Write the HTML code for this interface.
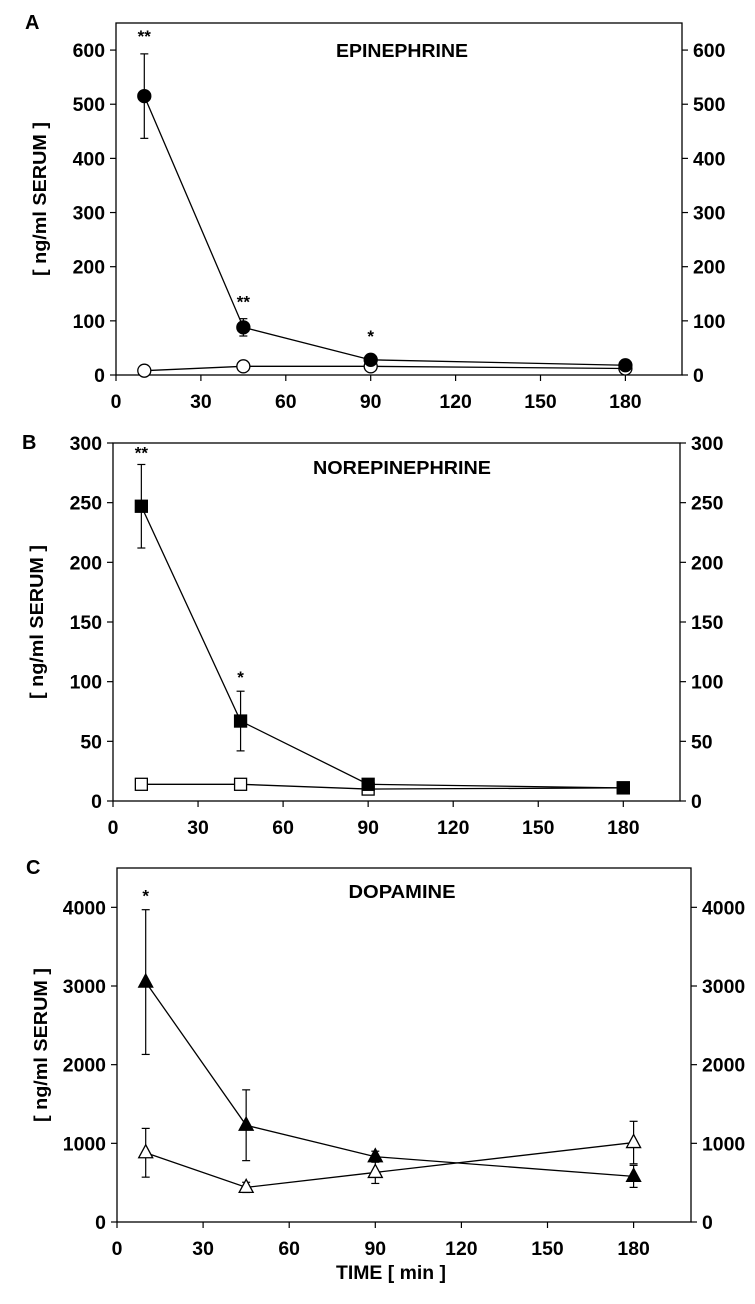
<!DOCTYPE html>
<html><head><meta charset="utf-8"><style>
html,body{margin:0;padding:0;background:#fff;width:755px;height:1304px;overflow:hidden}
svg{display:block}
text{font-family:"Liberation Sans",Arial,sans-serif;font-weight:bold;fill:#000}
</style></head><body>
<svg id="chart" width="755" height="1304" viewBox="0 0 755 1304" xmlns="http://www.w3.org/2000/svg"></svg>
<script>
const xTicks=[0,30,60,90,120,150,180];
const times=[10,45,90,180];
const epiTicks=[0,100,200,300,400,500,600];
const epiStim=[515,88,28,18];
const epiStimErr=[78,16,0,0];
const epiCtrl=[8,16,16,12];
const epiCtrlErr=[0,0,0,0];
const norTicks=[0,50,100,150,200,250,300];
const norStim=[247,67,14,11];
const norStimErr=[35,25,0,0];
const norCtrl=[14,14,10,11];
const norCtrlErr=[0,0,0,0];
const dopTicks=[0,1000,2000,3000,4000];
const dopStim=[3050,1230,830,580];
const dopStimErr=[920,450,70,140];
const dopCtrl=[880,440,630,1010];
const dopCtrlErr=[310,65,140,270];
const epiStars=['**','**','*',''];
const norStars=['**','*','',''];
const dopStars=['*','','',''];

const svg=document.getElementById('chart');
const NS='http://www.w3.org/2000/svg';
function mk(tag,attrs,parent,txt){const e=document.createElementNS(NS,tag);for(const k in attrs)e.setAttribute(k,attrs[k]);if(txt!==undefined)e.textContent=txt;(parent||svg).appendChild(e);return e;}
function num(v,x,y,anchor,g){
  const s=String(v);
  return mk('text',{x:x,y:y,'font-size':19,'text-anchor':anchor,textLength:s.length*10.8,lengthAdjust:'spacingAndGlyphs'},g,s);
}

function panel(p){
  const g=mk('g',{});
  
  
  const X=v=>p.L+(v/200)*(p.R-p.L);
  const Y=v=>p.B-(v/p.ymax)*(p.B-p.T);
  const box=mk('rect',{x:p.L,y:p.T,width:p.R-p.L,height:p.B-p.T,fill:'none',stroke:'#000','stroke-width':1.3},g);
  
  
  const lt=mk('text',{x:p.L-91,y:p.T+6,'font-size':20},g,p.letter);
  
  
  xTicks.forEach(v=>{
    mk('line',{x1:X(v),x2:X(v),y1:p.B,y2:p.B+6,stroke:'#000','stroke-width':1.2},g);
    const t=num(v,X(v),p.B+33,'middle',g);
    
    
  });
  p.ticks.forEach(v=>{
    mk('line',{x1:p.L-6,x2:p.L,y1:Y(v),y2:Y(v),stroke:'#000','stroke-width':1.2},g);
    mk('line',{x1:p.R,x2:p.R+6,y1:Y(v),y2:Y(v),stroke:'#000','stroke-width':1.2},g);
    const t=num(v,p.L-11,Y(v)+7,'end',g);
    
    
    const t2=num(v,p.R+11,Y(v)+7,'start',g);
    
    
  });
  const yl=mk('text',{x:0,y:0,'font-size':18,'text-anchor':'middle',textLength:154,lengthAdjust:'spacingAndGlyphs',transform:`translate(${p.L-70},${(p.T+p.B)/2}) rotate(-90)`},g,'[ ng/ml SERUM ]');
  
  
  const ti=mk('text',{x:p.tx,y:p.T+p.ty,'font-size':18,'text-anchor':'middle',textLength:p.tw,lengthAdjust:'spacingAndGlyphs'},g,p.title);
  
  
  function series(vals,errs,filled,name){
    const sg=mk('g',{},g);
    
    
    mk('polyline',{points:vals.map((v,i)=>X(times[i])+','+Y(v)).join(' '),fill:'none',stroke:'#000','stroke-width':1.3},sg);
    vals.forEach((v,i)=>{
      const e=errs[i];
      if(e>0){
        const cx=X(times[i]);
        mk('line',{x1:cx,x2:cx,y1:Y(v+e),y2:Y(v-e),stroke:'#000','stroke-width':1.2},sg);
        mk('line',{x1:cx-4,x2:cx+4,y1:Y(v+e),y2:Y(v+e),stroke:'#000','stroke-width':1.2},sg);
        mk('line',{x1:cx-4,x2:cx+4,y1:Y(v-e),y2:Y(v-e),stroke:'#000','stroke-width':1.2},sg);
      }
    });
    vals.forEach((v,i)=>{
      const cx=X(times[i]),cy=Y(v);let m;
      const f=filled?'#000':'#fff';
      if(p.shape==='circle')m=mk('circle',{cx:cx,cy:cy,r:6.5,fill:f,stroke:'#000','stroke-width':1.3},sg);
      else if(p.shape==='square')m=mk('rect',{x:cx-6,y:cy-6,width:12,height:12,fill:f,stroke:'#000','stroke-width':1.3},sg);
      else m=mk('polygon',{points:`${cx},${cy-8} ${cx-7},${cy+5} ${cx+7},${cy+5}`,fill:f,stroke:'#000','stroke-width':1.3},sg);
      
      
    });
  }
  series(p.ctrl,p.ctrlErr,false,'control-series');
  series(p.stim,p.stimErr,true,'treated-series');
  p.stars.forEach((s,i)=>{
    if(!s)return;
    const top=p.stim[i]+p.stimErr[i];
    const st=mk('text',{x:X(times[i]),y:Y(top)-8+p.starOff[i],'font-size':17,'text-anchor':'middle'},g,s);
    
    
  });
}

panel({id:'a',letter:'A',title:'EPINEPHRINE',tw:132,L:116,R:682,T:23,B:375,ymax:650,ticks:epiTicks,
  stim:epiStim,stimErr:epiStimErr,ctrl:epiCtrl,ctrlErr:epiCtrlErr,shape:'circle',stars:epiStars,starOff:[-4,-3,-10,0],tx:402,ty:34});
panel({id:'b',letter:'B',title:'NOREPINEPHRINE',tw:178,L:113,R:680,T:443,B:801,ymax:300,ticks:norTicks,
  stim:norStim,stimErr:norStimErr,ctrl:norCtrl,ctrlErr:norCtrlErr,shape:'square',stars:norStars,starOff:[2,0,0,0],tx:402,ty:31});
panel({id:'c',letter:'C',title:'DOPAMINE',tw:107,L:117,R:691,T:868,B:1222,ymax:4500,ticks:dopTicks,
  stim:dopStim,stimErr:dopStimErr,ctrl:dopCtrl,ctrlErr:dopCtrlErr,shape:'triangle',stars:dopStars,starOff:[0,0,0,0],tx:402,ty:30});

const xt=mk('text',{x:391,y:1279,'font-size':19,'text-anchor':'middle',textLength:110,lengthAdjust:'spacingAndGlyphs'},svg,'TIME [ min ]');


</script>
</body></html>
